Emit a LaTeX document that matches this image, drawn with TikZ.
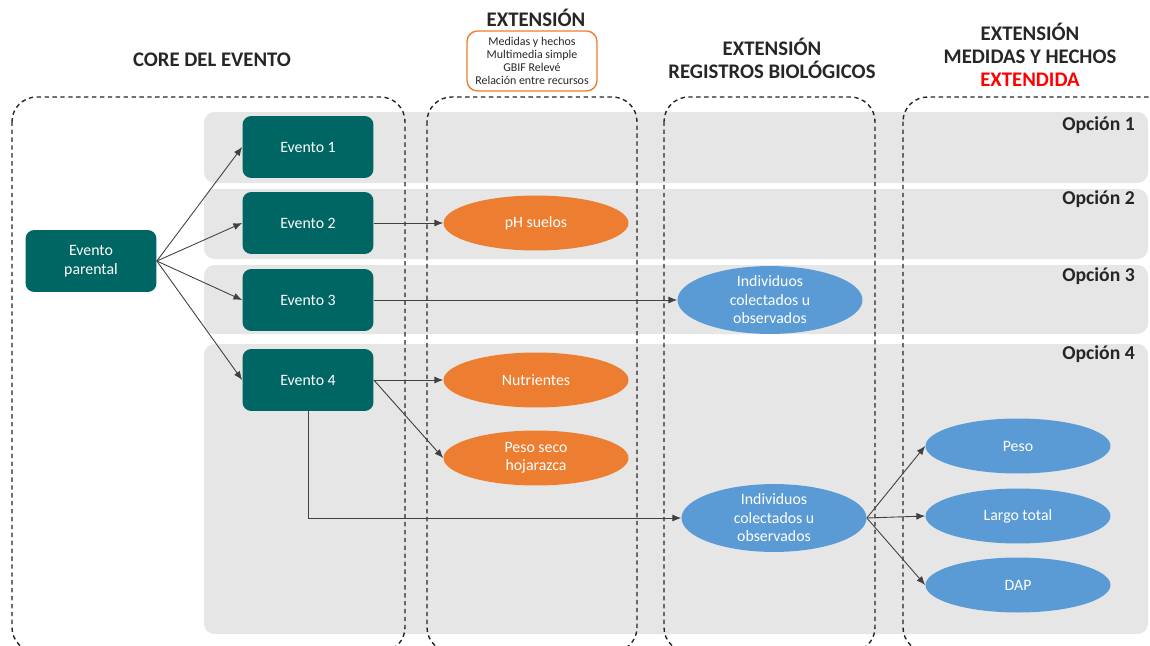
\documentclass[tikz,border=0pt]{standalone}
\usepackage{fontspec}
\setmainfont{Carlito}
\usetikzlibrary{shapes.geometric}
\usetikzlibrary{arrows.meta}
\tikzset{>={Latex[length=5pt,width=4pt]}}
\definecolor{evcol}{RGB}{0,102,99}
\definecolor{orcol}{RGB}{237,125,49}
\definecolor{blcol}{RGB}{91,155,213}
\definecolor{bandcol}{RGB}{230,230,230}
\definecolor{txtcol}{RGB}{38,38,38}
\tikzset{evento/.style = {shape=rectangle,rounded corners=5pt,fill=evcol,text=white,minimum width=2.62cm,minimum height=1.24cm,align=center,font=\fontsize{9}{10.5}\selectfont}}
\tikzset{medida/.style = {shape=ellipse,fill=orcol,text=white,minimum width=3.7cm,minimum height=1.1cm,inner sep=0pt,align=center,font=\fontsize{9}{10.5}\selectfont}}
\tikzset{registro/.style = {medida,fill=blcol}}
\tikzset{banda/.style = {fill=bandcol,rounded corners=6pt}}
\tikzset{caja/.style = {draw=txtcol,dash pattern=on 2.5pt off 2pt,line width=0.8pt,rounded corners=14pt}}
\tikzset{titulo/.style = {font=\bfseries\fontsize{11.8}{13}\selectfont,align=center,text=txtcol}}
\tikzset{opcion/.style = {font=\bfseries\fontsize{11.2}{12}\selectfont,anchor=east,text=txtcol}}
\tikzset{flecha/.style = {->,draw=black!75,line width=0.5pt}}

\begin{document}
\begin{tikzpicture}[x=0.02cm,y=-0.02cm]
                    \clip (0,0) rectangle (1150,646);

                    \fill[banda] (204,112) rectangle (1148,183);
                    \fill[banda] (204,189) rectangle (1148,259);
                    \fill[banda] (204,265) rectangle (1148,334);
                    \fill[banda] (204,344) rectangle (1148,634);

                    \draw[caja] (12,97) rectangle (405,652);
                    \draw[caja] (427,97) rectangle (637,652);
                    \draw[caja] (664,97) rectangle (875,652);
                    \draw[caja] (903,97) rectangle (1175,652);

                    \node[titulo] (core) at (212,60) {CORE DEL EVENTO};
                    \node[titulo] (ext) at (536,18) {EXTENSIÓN};
                    \node[draw=orcol,line width=0.8pt,rounded corners=6pt,minimum width=2.6cm,minimum height=1.2cm,inner sep=1pt,align=center,text=txtcol,font=\fontsize{6.8}{7.4}\selectfont] (lista) at (532,61) {Medidas y hechos\\Multimedia simple\\GBIF Relevé\\Relación entre recursos};
                    \node[titulo] (extreg) at (772,58) {EXTENSIÓN\\REGISTROS BIOLÓGICOS};
                    \node[titulo] (extmed) at (1030,55) {EXTENSIÓN\\MEDIDAS Y HECHOS\\\textcolor{red}{EXTENDIDA}};

                    \node[opcion] (op1) at (1141,125) {Opción 1};
                    \node[opcion] (op2) at (1141,199) {Opción 2};
                    \node[opcion] (op3) at (1141,276) {Opción 3};
                    \node[opcion] (op4) at (1141,354) {Opción 4};

                    \node[evento] (P) at (91,261) {Evento\\parental};
                    \node[evento] (E1) at (308,147) {Evento 1};
                    \node[evento] (E2) at (308,223) {Evento 2};
                    \node[evento] (E3) at (308,300) {Evento 3};
                    \node[evento] (E4) at (308,380) {Evento 4};

                    \node[medida] (ph) at (536,223) {pH suelos};
                    \node[medida] (nut) at (536,380) {Nutrientes};
                    \node[medida] (hoja) at (536,458) {Peso seco\\hojarazca};

                    \node[registro] (ind3) at (770,300) {Individuos\\colectados u\\observados};
                    \node[registro] (ind4) at (774,518) {Individuos\\colectados u\\observados};
                    \node[registro] (peso) at (1018,446) {Peso};
                    \node[registro] (largo) at (1018,516) {Largo total};
                    \node[registro] (dap) at (1018,585) {DAP};

                    \draw[flecha] (P.east) -- (E1.west);
                    \draw[flecha] (P.east) -- (E2.west);
                    \draw[flecha] (P.east) -- (E3.west);
                    \draw[flecha] (P.east) -- (E4.west);
                    \draw[flecha] (E2) -- (ph);
                    \draw[flecha] (E3) -- (ind3);
                    \draw[flecha] (E4) -- (nut);
                    \draw[flecha] (E4.east) -- (hoja.west);
                    \draw[flecha] (E4.south) |- (ind4.west);
                    \draw[flecha] (ind4.east) -- (peso.west);
                    \draw[flecha] (ind4.east) -- (largo.west);
                    \draw[flecha] (ind4.east) -- (dap.west);
                \end{tikzpicture}
\end{document}
